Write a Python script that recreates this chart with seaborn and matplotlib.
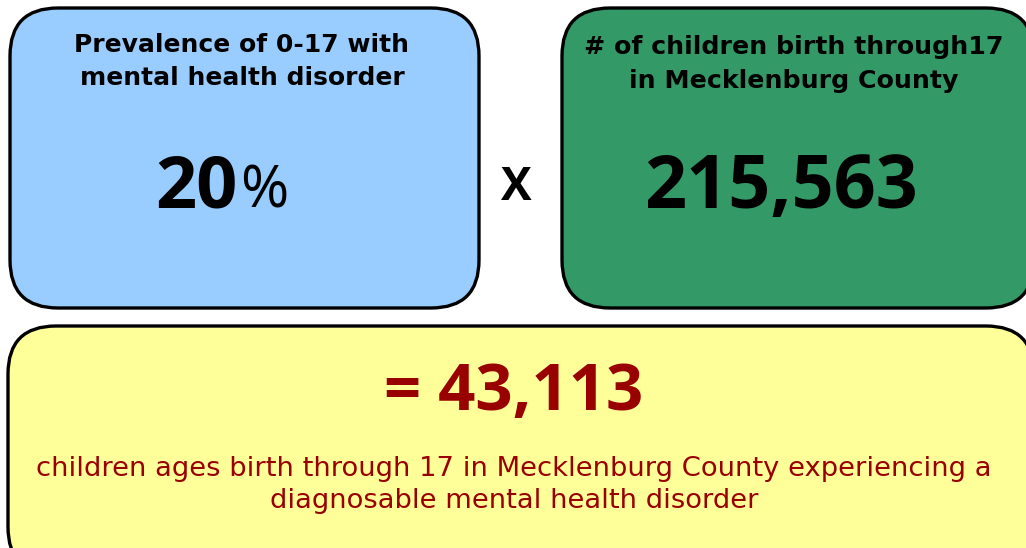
import matplotlib
matplotlib.use("Agg")
import matplotlib.pyplot as plt
import seaborn as sns
from matplotlib.patches import FancyBboxPatch

# ---- data ----
prevalence_label = ["Prevalence of 0-17 with", "mental health disorder"]
prevalence_value = "20"
prevalence_unit = "%"
children_label = ["# of children birth through17", "in Mecklenburg County"]
children_value = "215,563"
operator = "X"
result_value = "= 43,113"
result_label = ["children ages birth through 17 in Mecklenburg County experiencing a",
                "diagnosable mental health disorder"]

box_colors = ["#99CCFF", "#339966", "#FFFF99"]
result_color = "#990000"

sns.set_theme(style="white")
plt.rcParams['font.family'] = ['DejaVu Sans']

W, H = 1026, 548
fig = plt.figure(figsize=(W / 100, H / 100), dpi=100)
ax = fig.add_axes([0, 0, 1, 1])
ax.set_xlim(0, W)
ax.set_ylim(H, 0)
ax.axis("off")

def rbox(x0, y0, x1, y1, color, r=48):
    p = FancyBboxPatch((x0 + r, y0 + r), (x1 - x0) - 2 * r, (y1 - y0) - 2 * r,
                       boxstyle=f"round,pad={r}", facecolor=color,
                       edgecolor="black", linewidth=2.4, zorder=1)
    ax.add_patch(p)

rbox(10, 8, 479, 308, box_colors[0])
rbox(562, 8, 1034, 308, box_colors[1])
rbox(8, 326, 1034, 575, box_colors[2])

num_font = ['Open Sans', 'DejaVu Sans']

# blue box
for i, line in enumerate(prevalence_label):
    ax.text(242, 52 + 33 * i, line, ha="center", va="baseline",
            fontsize=18, fontweight="bold", color="black")
ax.text(238, 208, prevalence_value, ha="right", va="baseline",
        fontsize=52, fontweight="bold", color="black", family=num_font)
ax.text(240, 208, prevalence_unit, ha="left", va="baseline",
        fontsize=42, fontweight="normal", color="black", family=num_font)

# operator
ax.text(516, 200, operator, ha="center", va="baseline",
        fontsize=33, fontweight="bold", color="black", family=num_font)

# green box
for i, line in enumerate(children_label):
    ax.text(794, 54 + 34 * i, line, ha="center", va="baseline",
            fontsize=18.2, fontweight="bold", color="black")
ax.text(781, 208, children_value, ha="center", va="baseline",
        fontsize=53, fontweight="bold", color="black", family=num_font)

# yellow box
ax.text(514, 410, result_value, ha="center", va="baseline",
        fontsize=47, fontweight="bold", color=result_color, family=num_font)
for i, line in enumerate(result_label):
    ax.text(514, 476 + 32 * i, line, ha="center", va="baseline",
            fontsize=19.7, color=result_color)

fig.savefig("out.png", dpi=100)
